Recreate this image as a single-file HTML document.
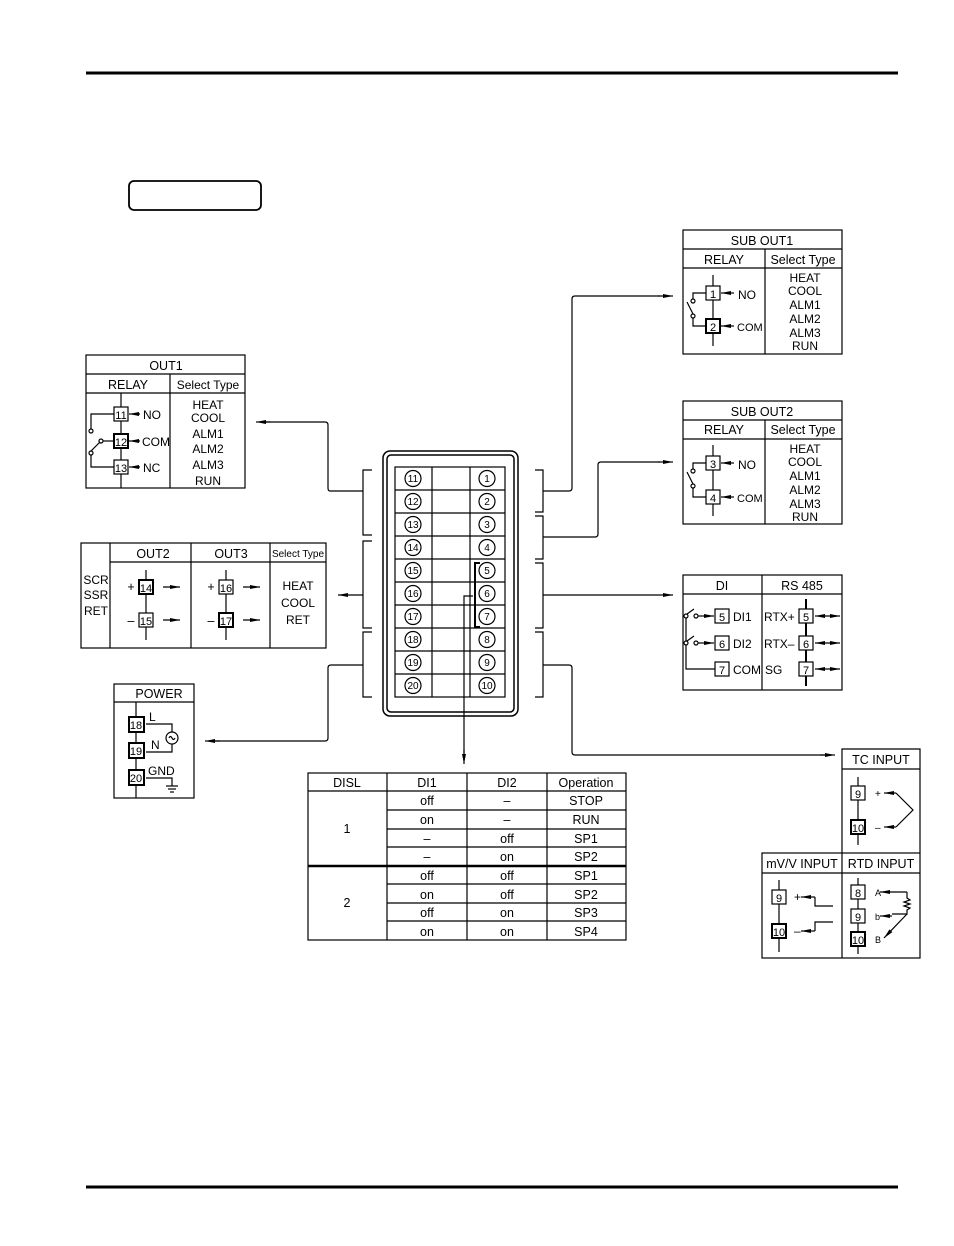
<!DOCTYPE html>
<html><head><meta charset="utf-8"><style>
html,body{margin:0;padding:0;background:#fff}
svg{display:block}
text{font-family:"Liberation Sans",sans-serif;fill:#000}
</style></head><body>
<svg width="954" height="1246" viewBox="0 0 954 1246" xmlns="http://www.w3.org/2000/svg">
<defs>
<marker id="a" markerWidth="10" markerHeight="6" refX="10" refY="3" orient="auto-start-reverse" markerUnits="userSpaceOnUse"><path d="M0,1 L10,3 L0,5 z" fill="#000"/></marker>
</defs>
<g stroke="#000" fill="none" stroke-width="1.2">
<line x1="86" y1="73" x2="898" y2="73" stroke-width="3"/>
<line x1="86" y1="1187" x2="898" y2="1187" stroke-width="3"/>
<rect x="129" y="181" width="132" height="29" rx="5" stroke-width="1.8"/>

<!-- OUT1 -->
<rect x="86" y="355" width="159" height="133"/>
<line x1="86" y1="374" x2="245" y2="374"/><line x1="86" y1="393" x2="245" y2="393"/>
<line x1="170" y1="374" x2="170" y2="488"/>
<line x1="121" y1="393" x2="121" y2="488"/>
<rect x="114" y="407" width="14" height="14" fill="#fff"/><rect x="114" y="434" width="14" height="14" fill="#fff" stroke-width="2"/><rect x="114" y="460" width="14" height="14" fill="#fff"/>
<line x1="140" y1="414" x2="129" y2="414" marker-end="url(#a)"/><line x1="140" y1="441" x2="129" y2="441" marker-end="url(#a)"/><line x1="140" y1="467" x2="129" y2="467" marker-end="url(#a)"/>
<path d="M114,414 H91 V429"/><circle cx="91" cy="431" r="2"/><path d="M114,441 H103"/><circle cx="101" cy="441" r="2"/><path d="M100,442 L91,451"/><circle cx="91" cy="453" r="2"/><path d="M91,455 V467 H114"/>

<!-- OUT2/3 -->
<rect x="81" y="543" width="245" height="105"/>
<line x1="110" y1="543" x2="110" y2="648"/><line x1="191" y1="543" x2="191" y2="648"/><line x1="270" y1="543" x2="270" y2="648"/>
<line x1="110" y1="562" x2="326" y2="562"/>
<line x1="146" y1="570" x2="146" y2="640"/><line x1="226" y1="570" x2="226" y2="640"/>
<rect x="139" y="580" width="14" height="14" fill="#fff" stroke-width="2"/><rect x="139" y="613" width="14" height="14" fill="#fff"/>
<rect x="219" y="580" width="14" height="14" fill="#fff"/><rect x="219" y="613" width="14" height="14" fill="#fff" stroke-width="2"/>
<line x1="163" y1="587" x2="180" y2="587" marker-end="url(#a)"/><line x1="163" y1="620" x2="180" y2="620" marker-end="url(#a)"/>
<line x1="243" y1="587" x2="260" y2="587" marker-end="url(#a)"/><line x1="243" y1="620" x2="260" y2="620" marker-end="url(#a)"/>

<!-- POWER -->
<rect x="114" y="684" width="80" height="114"/><line x1="114" y1="702" x2="194" y2="702"/>
<line x1="136" y1="702" x2="136" y2="798"/>
<rect x="129" y="717" width="15" height="15" fill="#fff" stroke-width="2"/><rect x="129" y="743" width="15" height="15" fill="#fff" stroke-width="2"/><rect x="129" y="770" width="15" height="15" fill="#fff" stroke-width="2"/>
<path d="M146,724 H172 V732"/><circle cx="172" cy="738" r="6"/><path d="M169,738 q1.5,-3 3,0 q1.5,3 3,0"/><path d="M172,744 V752 H146"/>
<path d="M146,778 H172 V786"/><line x1="166" y1="786" x2="178" y2="786"/><line x1="168" y1="789" x2="176" y2="789"/><line x1="170" y1="792" x2="174" y2="792"/>

<!-- SUB OUT1 -->
<rect x="683" y="230" width="159" height="124"/>
<line x1="683" y1="249" x2="842" y2="249"/><line x1="683" y1="268" x2="842" y2="268"/>
<line x1="765" y1="249" x2="765" y2="354"/>
<line x1="713" y1="275" x2="713" y2="346"/>
<rect x="706" y="286" width="14" height="14" fill="#fff"/><rect x="706" y="319" width="14" height="14" fill="#fff" stroke-width="2"/>
<line x1="734" y1="293" x2="721" y2="293" marker-end="url(#a)"/><line x1="734" y1="326" x2="721" y2="326" marker-end="url(#a)"/>
<path d="M706,293 H693 V299"/><circle cx="693" cy="301" r="2"/><path d="M687,302 L693,314"/><circle cx="693" cy="316" r="2"/><path d="M693,318 V326 H706"/>

<!-- SUB OUT2 -->
<rect x="683" y="401" width="159" height="123"/>
<line x1="683" y1="420" x2="842" y2="420"/><line x1="683" y1="439" x2="842" y2="439"/>
<line x1="765" y1="420" x2="765" y2="524"/>
<line x1="713" y1="445" x2="713" y2="516"/>
<rect x="706" y="456" width="14" height="14" fill="#fff"/><rect x="706" y="490" width="14" height="14" fill="#fff"/>
<line x1="734" y1="463" x2="721" y2="463" marker-end="url(#a)"/><line x1="734" y1="497" x2="721" y2="497" marker-end="url(#a)"/>
<path d="M706,463 H693 V469"/><circle cx="693" cy="471" r="2"/><path d="M687,472 L693,484"/><circle cx="693" cy="486" r="2"/><path d="M693,488 V497 H706"/>

<!-- DI / RS485 -->
<rect x="683" y="575" width="159" height="115"/>
<line x1="683" y1="594" x2="842" y2="594"/><line x1="762" y1="575" x2="762" y2="690"/>
<rect x="715" y="609" width="14" height="14" fill="#fff"/><rect x="715" y="636" width="14" height="14" fill="#fff"/><rect x="715" y="662" width="14" height="14" fill="#fff"/>
<circle cx="686" cy="616" r="2"/><path d="M687,614 L694,609"/><circle cx="696" cy="616" r="2"/><line x1="698" y1="616" x2="714" y2="616" marker-end="url(#a)"/>
<circle cx="686" cy="643" r="2"/><path d="M687,641 L694,636"/><circle cx="696" cy="643" r="2"/><line x1="698" y1="643" x2="714" y2="643" marker-end="url(#a)"/>
<path d="M686,618 V641 M686,645 V669 H715"/>
<line x1="806" y1="599" x2="806" y2="686" stroke-width="2"/>
<rect x="799" y="609" width="14" height="14" fill="#fff"/><rect x="799" y="636" width="14" height="14" fill="#fff"/><rect x="799" y="662" width="14" height="14" fill="#fff"/>
<line x1="815" y1="616" x2="840" y2="616" marker-start="url(#a)" marker-end="url(#a)"/>
<line x1="815" y1="643" x2="840" y2="643" marker-start="url(#a)" marker-end="url(#a)"/>
<line x1="815" y1="669" x2="840" y2="669" marker-start="url(#a)" marker-end="url(#a)"/>

<!-- TC -->
<path d="M842,853 V749 H920 V853"/><line x1="842" y1="769" x2="920" y2="769"/>
<line x1="858" y1="777" x2="858" y2="845"/>
<rect x="851" y="786" width="14" height="14" fill="#fff"/><rect x="851" y="820" width="14" height="14" fill="#fff" stroke-width="2"/>
<line x1="896" y1="793" x2="884" y2="793" marker-end="url(#a)"/><line x1="896" y1="827" x2="884" y2="827" marker-end="url(#a)"/>
<path d="M896,793 L913,810 L896,827"/>
<!-- mV / RTD -->
<rect x="762" y="853" width="158" height="105"/><line x1="762" y1="873" x2="920" y2="873"/><line x1="842" y1="853" x2="842" y2="958"/>
<line x1="779" y1="880" x2="779" y2="952"/>
<rect x="772" y="890" width="14" height="14" fill="#fff"/><rect x="772" y="924" width="14" height="14" fill="#fff" stroke-width="2"/>
<line x1="815" y1="897" x2="801" y2="897" marker-end="url(#a)"/><path d="M815,897 V906 H833"/>
<line x1="815" y1="931" x2="801" y2="931" marker-end="url(#a)"/><path d="M815,931 V922 H833"/>
<line x1="858" y1="878" x2="858" y2="954"/>
<rect x="851" y="885" width="14" height="14" fill="#fff"/><rect x="851" y="909" width="14" height="14" fill="#fff"/><rect x="851" y="932" width="14" height="14" fill="#fff" stroke-width="2"/>
<line x1="907" y1="892" x2="880" y2="892" marker-end="url(#a)"/><path d="M907,892 V898 l3,2 l-6,2 l6,2 l-6,2 l6,2 l-3,2 V914 H892"/><line x1="892" y1="916" x2="880" y2="916" marker-end="url(#a)"/>
<line x1="907" y1="914" x2="884" y2="938" marker-end="url(#a)"/>

<!-- terminal block -->
<rect x="383" y="451" width="135" height="265" rx="7" stroke-width="1.5"/>
<rect x="387" y="455" width="127" height="257" rx="4" stroke-width="1.5"/>
<rect x="395" y="467" width="110" height="230"/>
<line x1="432" y1="467" x2="432" y2="697"/><line x1="470" y1="467" x2="470" y2="697"/>
<g>
<line x1="395" y1="490" x2="505" y2="490"/><line x1="395" y1="513" x2="505" y2="513"/><line x1="395" y1="536" x2="505" y2="536"/><line x1="395" y1="559" x2="505" y2="559"/><line x1="395" y1="582" x2="505" y2="582"/><line x1="395" y1="605" x2="505" y2="605"/><line x1="395" y1="628" x2="505" y2="628"/><line x1="395" y1="651" x2="505" y2="651"/><line x1="395" y1="674" x2="505" y2="674"/>
</g>
<g>
<circle cx="413" cy="478.5" r="8"/><circle cx="413" cy="501.5" r="8"/><circle cx="413" cy="524.5" r="8"/><circle cx="413" cy="547.5" r="8"/><circle cx="413" cy="570.5" r="8"/><circle cx="413" cy="593.5" r="8"/><circle cx="413" cy="616.5" r="8"/><circle cx="413" cy="639.5" r="8"/><circle cx="413" cy="662.5" r="8"/><circle cx="413" cy="685.5" r="8"/>
<circle cx="487" cy="478.5" r="8"/><circle cx="487" cy="501.5" r="8"/><circle cx="487" cy="524.5" r="8"/><circle cx="487" cy="547.5" r="8"/><circle cx="487" cy="570.5" r="8"/><circle cx="487" cy="593.5" r="8"/><circle cx="487" cy="616.5" r="8"/><circle cx="487" cy="639.5" r="8"/><circle cx="487" cy="685.5" r="8"/><circle cx="487" cy="662.5" r="8"/>
</g>
<path d="M480,563 H475 V627 H480" stroke-width="2"/>
<path d="M473,596 H464 V760" /><line x1="464" y1="750" x2="464" y2="764" marker-end="url(#a)"/>
<!-- brackets -->
<path d="M372,470 H363 V535 H372"/><path d="M372,541 H363 V628 H372"/><path d="M372,632 H363 V697 H372"/>
<path d="M535,470 H543 V512 H535"/><path d="M535,516 H543 V559 H535"/><path d="M535,563 H543 V628 H535"/><path d="M535,632 H543 V697 H535"/>
<!-- connectors -->
<path d="M363,491 H330 Q328,491 328,488 V425 Q328,422 325,422 H260"/><line x1="270" y1="422" x2="256" y2="422" marker-end="url(#a)"/>
<line x1="363" y1="595" x2="338" y2="595" marker-end="url(#a)"/>
<path d="M363,665 H331 Q328,665 328,668 V738 Q328,741 325,741 H210"/><line x1="220" y1="741" x2="205" y2="741" marker-end="url(#a)"/>
<path d="M543,491 H569 Q572,491 572,488 V299 Q572,296 575,296 H660"/><line x1="658" y1="296" x2="673" y2="296" marker-end="url(#a)"/>
<path d="M543,537 H595 Q598,537 598,534 V465 Q598,462 601,462 H660"/><line x1="658" y1="462" x2="673" y2="462" marker-end="url(#a)"/>
<line x1="543" y1="595" x2="673" y2="595" marker-end="url(#a)"/>
<path d="M543,665 H569 Q572,665 572,668 V752 Q572,755 575,755 H825"/><line x1="820" y1="755" x2="835" y2="755" marker-end="url(#a)"/>

<!-- table -->
<rect x="308" y="773" width="318" height="167"/>
<line x1="387" y1="773" x2="387" y2="940"/><line x1="467" y1="773" x2="467" y2="940"/><line x1="547" y1="773" x2="547" y2="940"/>
<line x1="308" y1="791" x2="626" y2="791"/>
<line x1="387" y1="810" x2="626" y2="810"/><line x1="387" y1="829" x2="626" y2="829"/><line x1="387" y1="847" x2="626" y2="847"/>
<line x1="308" y1="866" x2="626" y2="866" stroke-width="2.5"/>
<line x1="387" y1="884" x2="626" y2="884"/><line x1="387" y1="903" x2="626" y2="903"/><line x1="387" y1="921" x2="626" y2="921"/>
</g>

<g font-size="12.5" text-anchor="middle">
<text x="166" y="370">OUT1</text><text x="128" y="389">RELAY</text><text x="208" y="389" font-size="12">Select Type</text>
<g font-size="12"><text x="208" y="409">HEAT</text><text x="208" y="422">COOL</text><text x="208" y="438">ALM1</text><text x="208" y="453">ALM2</text><text x="208" y="469">ALM3</text><text x="208" y="485">RUN</text></g>
<text x="153" y="558">OUT2</text><text x="231" y="558">OUT3</text><text x="298" y="557" font-size="10">Select Type</text>
<g font-size="12"><text x="96" y="584">SCR</text><text x="96" y="599">SSR</text><text x="96" y="615">RET</text>
<text x="298" y="590">HEAT</text><text x="298" y="607">COOL</text><text x="298" y="624">RET</text></g>
<g font-size="11"><text x="146" y="592">14</text><text x="146" y="625">15</text><text x="226" y="592">16</text><text x="226" y="625">17</text>
<text x="121" y="419">11</text><text x="121" y="446">12</text><text x="121" y="472">13</text>
<text x="136" y="729">18</text><text x="136" y="755">19</text><text x="136" y="782">20</text></g>
<text x="131" y="591">+</text><text x="131" y="625">–</text><text x="211" y="591">+</text><text x="211" y="625">–</text>
<text x="159" y="698">POWER</text>
<text x="762" y="245">SUB  OUT1</text><text x="724" y="264">RELAY</text><text x="803" y="264">Select Type</text>
<g font-size="12"><text x="805" y="282">HEAT</text><text x="805" y="295">COOL</text><text x="805" y="309">ALM1</text><text x="805" y="323">ALM2</text><text x="805" y="337">ALM3</text><text x="805" y="350">RUN</text>
<text x="805" y="453">HEAT</text><text x="805" y="466">COOL</text><text x="805" y="480">ALM1</text><text x="805" y="494">ALM2</text><text x="805" y="508">ALM3</text><text x="805" y="521">RUN</text></g>
<text x="762" y="416">SUB  OUT2</text><text x="724" y="434">RELAY</text><text x="803" y="434">Select Type</text>
<g font-size="11"><text x="713" y="298">1</text><text x="713" y="331">2</text><text x="713" y="468">3</text><text x="713" y="502">4</text>
<text x="722" y="621">5</text><text x="722" y="648">6</text><text x="722" y="674">7</text>
<text x="806" y="621">5</text><text x="806" y="648">6</text><text x="806" y="674">7</text>
<text x="858" y="798">9</text><text x="858" y="832">10</text>
<text x="779" y="902">9</text><text x="779" y="936">10</text>
<text x="858" y="897">8</text><text x="858" y="921">9</text><text x="858" y="944">10</text></g>
<text x="722" y="590">DI</text><text x="802" y="590">RS  485</text>
<text x="881" y="764">TC  INPUT</text><text x="802" y="868">mV/V  INPUT</text><text x="881" y="868">RTD  INPUT</text>
<g font-size="10">
<text x="413" y="482">11</text><text x="413" y="505">12</text><text x="413" y="528">13</text><text x="413" y="551">14</text><text x="413" y="574">15</text><text x="413" y="597">16</text><text x="413" y="620">17</text><text x="413" y="643">18</text><text x="413" y="666">19</text><text x="413" y="689">20</text>
<text x="487" y="482">1</text><text x="487" y="505">2</text><text x="487" y="528">3</text><text x="487" y="551">4</text><text x="487" y="574">5</text><text x="487" y="597">6</text><text x="487" y="620">7</text><text x="487" y="643">8</text><text x="487" y="666">9</text><text x="487" y="689">10</text>
</g>
<g font-size="12.5">
<text x="347" y="787">DISL</text><text x="427" y="787">DI1</text><text x="507" y="787">DI2</text><text x="586" y="787">Operation</text>
<text x="347" y="833">1</text><text x="347" y="907">2</text>
<text x="427" y="805">off</text><text x="427" y="824">on</text><text x="427" y="843">–</text><text x="427" y="861">–</text><text x="427" y="880">off</text><text x="427" y="899">on</text><text x="427" y="917">off</text><text x="427" y="936">on</text>
<text x="507" y="805">–</text><text x="507" y="824">–</text><text x="507" y="843">off</text><text x="507" y="861">on</text><text x="507" y="880">off</text><text x="507" y="899">off</text><text x="507" y="917">on</text><text x="507" y="936">on</text>
<text x="586" y="805">STOP</text><text x="586" y="824">RUN</text><text x="586" y="843">SP1</text><text x="586" y="861">SP2</text><text x="586" y="880">SP1</text><text x="586" y="899">SP2</text><text x="586" y="917">SP3</text><text x="586" y="936">SP4</text>
</g>
</g>
<g font-size="12" text-anchor="start">
<text x="143" y="419">NO</text><text x="142" y="446">COM</text><text x="143" y="472">NC</text>
<text x="149" y="721">L</text><text x="151" y="749">N</text><text x="148" y="775">GND</text>
<text x="738" y="299">NO</text><text x="737" y="331" font-size="11">COM</text>
<text x="738" y="469">NO</text><text x="737" y="502" font-size="11">COM</text>
<text x="733" y="621">DI1</text><text x="733" y="648">DI2</text><text x="733" y="674">COM</text>
<text x="764" y="621">RTX+</text><text x="764" y="648">RTX–</text><text x="765" y="674">SG</text>
<text x="875" y="797" font-size="10">+</text><text x="875" y="831" font-size="10">–</text>
<text x="794" y="901">+</text><text x="794" y="935">–</text>
<text x="875" y="896" font-size="9">A</text><text x="875" y="920" font-size="9">b</text><text x="875" y="943" font-size="9">B</text>
</g>
</svg>
</body></html>
